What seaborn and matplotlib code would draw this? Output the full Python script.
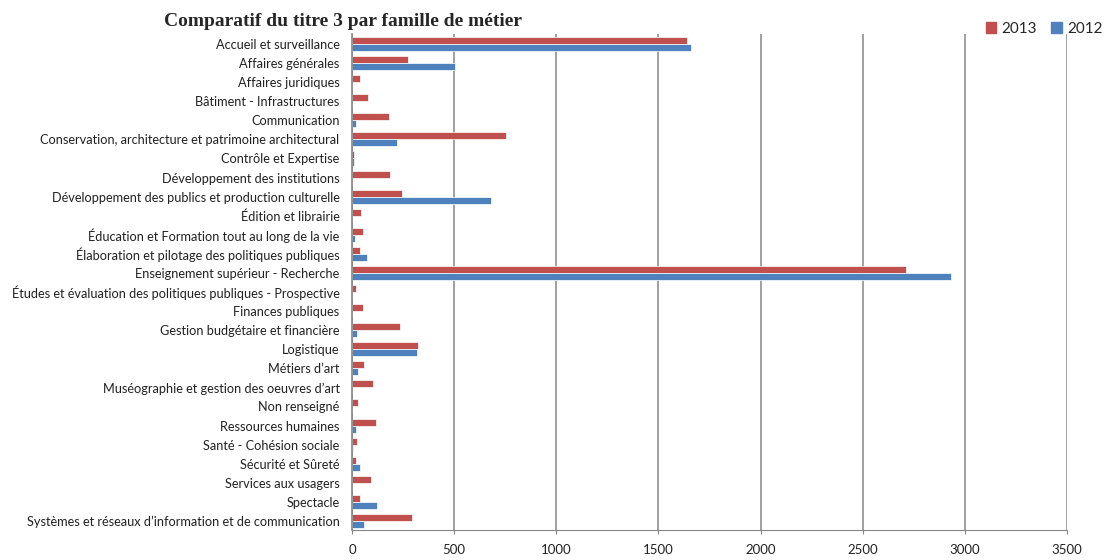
import matplotlib
matplotlib.use("Agg")
import matplotlib.pyplot as plt
import seaborn as sns
import pandas as pd

categories = [
    "Accueil et surveillance",
    "Affaires générales",
    "Affaires juridiques",
    "Bâtiment - Infrastructures",
    "Communication",
    "Conservation, architecture et patrimoine architectural",
    "Contrôle et Expertise",
    "Développement des institutions",
    "Développement des publics et production culturelle",
    "Édition et librairie",
    "Éducation et Formation tout au long de la vie",
    "Élaboration et pilotage des politiques publiques",
    "Enseignement supérieur - Recherche",
    "Études et évaluation des politiques publiques - Prospective",
    "Finances publiques",
    "Gestion budgétaire et financière",
    "Logistique",
    "Métiers d\u2019art",
    "Muséographie et gestion des oeuvres d\u2019art",
    "Non renseigné",
    "Ressources humaines",
    "Santé - Cohésion sociale",
    "Sécurité et Sûreté",
    "Services aux usagers",
    "Spectacle",
    "Systèmes et réseaux d\u2019information et de communication",
]

values_2013 = [1642, 276, 37, 77, 181, 752, 11, 184, 245, 42, 54, 39, 2714,
               18, 54, 235, 323, 59, 101, 31, 116, 23, 18, 93, 39, 295]
values_2012 = [1657, 504, 0, 0, 20, 222, 11, 0, 678, 0, 13, 72, 2932,
               0, 0, 26, 318, 29, 0, 0, 18, 7, 39, 0, 122, 59]

years = ["2013", "2012"]
x_ticks = [0, 500, 1000, 1500, 2000, 2500, 3000, 3500]

df = pd.DataFrame({
    "Famille": categories * 2,
    "Année": [years[0]] * len(categories) + [years[1]] * len(categories),
    "Effectif": values_2013 + values_2012,
})

sns.set_theme(style="white")
plt.rcParams["font.family"] = ["Lato", "DejaVu Sans"]

fig = plt.figure(figsize=(11.05, 5.6), dpi=100)
ax = fig.add_axes([0.3186, 0.0527, 0.6470, 0.8857])

palette = {"2013": "#C0504D", "2012": "#4F81BD"}
sns.barplot(data=df, y="Famille", x="Effectif", hue="Année",
            hue_order=years, order=categories, palette=palette,
            orient="h", width=0.74, saturation=1, ax=ax, legend=False,
            edgecolor="white", linewidth=0.5, zorder=3)

ax.set_xlim(0, 3500)
ax.set_ylim(len(categories) - 0.5, -0.5)
ax.set_xticks(x_ticks)
ax.set_xticklabels([str(t) for t in x_ticks], fontsize=9.5, color="#222222")
ax.tick_params(axis="x", length=3, width=0.8, color="#868686", pad=7,
               direction="out", bottom=True)
ax.tick_params(axis="y", length=0, pad=9, labelsize=9.2, labelcolor="#222222")
ax.set_xlabel("")
ax.set_ylabel("")

ax.grid(axis="x", color="#868686", linewidth=1.1, zorder=0)
ax.set_axisbelow(True)
for side in ["top", "right"]:
    ax.spines[side].set_visible(False)
ax.spines["left"].set_color("#868686")
ax.spines["left"].set_linewidth(1.2)
ax.spines["left"].set_zorder(4)
ax.spines["bottom"].set_color("#868686")
ax.spines["bottom"].set_linewidth(0.8)

fig.text(0.310, 0.9625, "Comparatif du titre 3 par famille de métier",
         ha="center", va="center", fontsize=14, fontweight="bold",
         family=["Liberation Serif", "DejaVu Serif"])

handles = [plt.Rectangle((0, 0), 1, 1, color=palette[y]) for y in years]
fig.legend(handles, years, loc="center right", bbox_to_anchor=(1.006, 0.948),
           ncol=2, frameon=False, fontsize=11, handlelength=0.7,
           handleheight=0.7, handletextpad=0.35, columnspacing=0.9,
           borderaxespad=0.2)

fig.savefig("out.png", dpi=100)
